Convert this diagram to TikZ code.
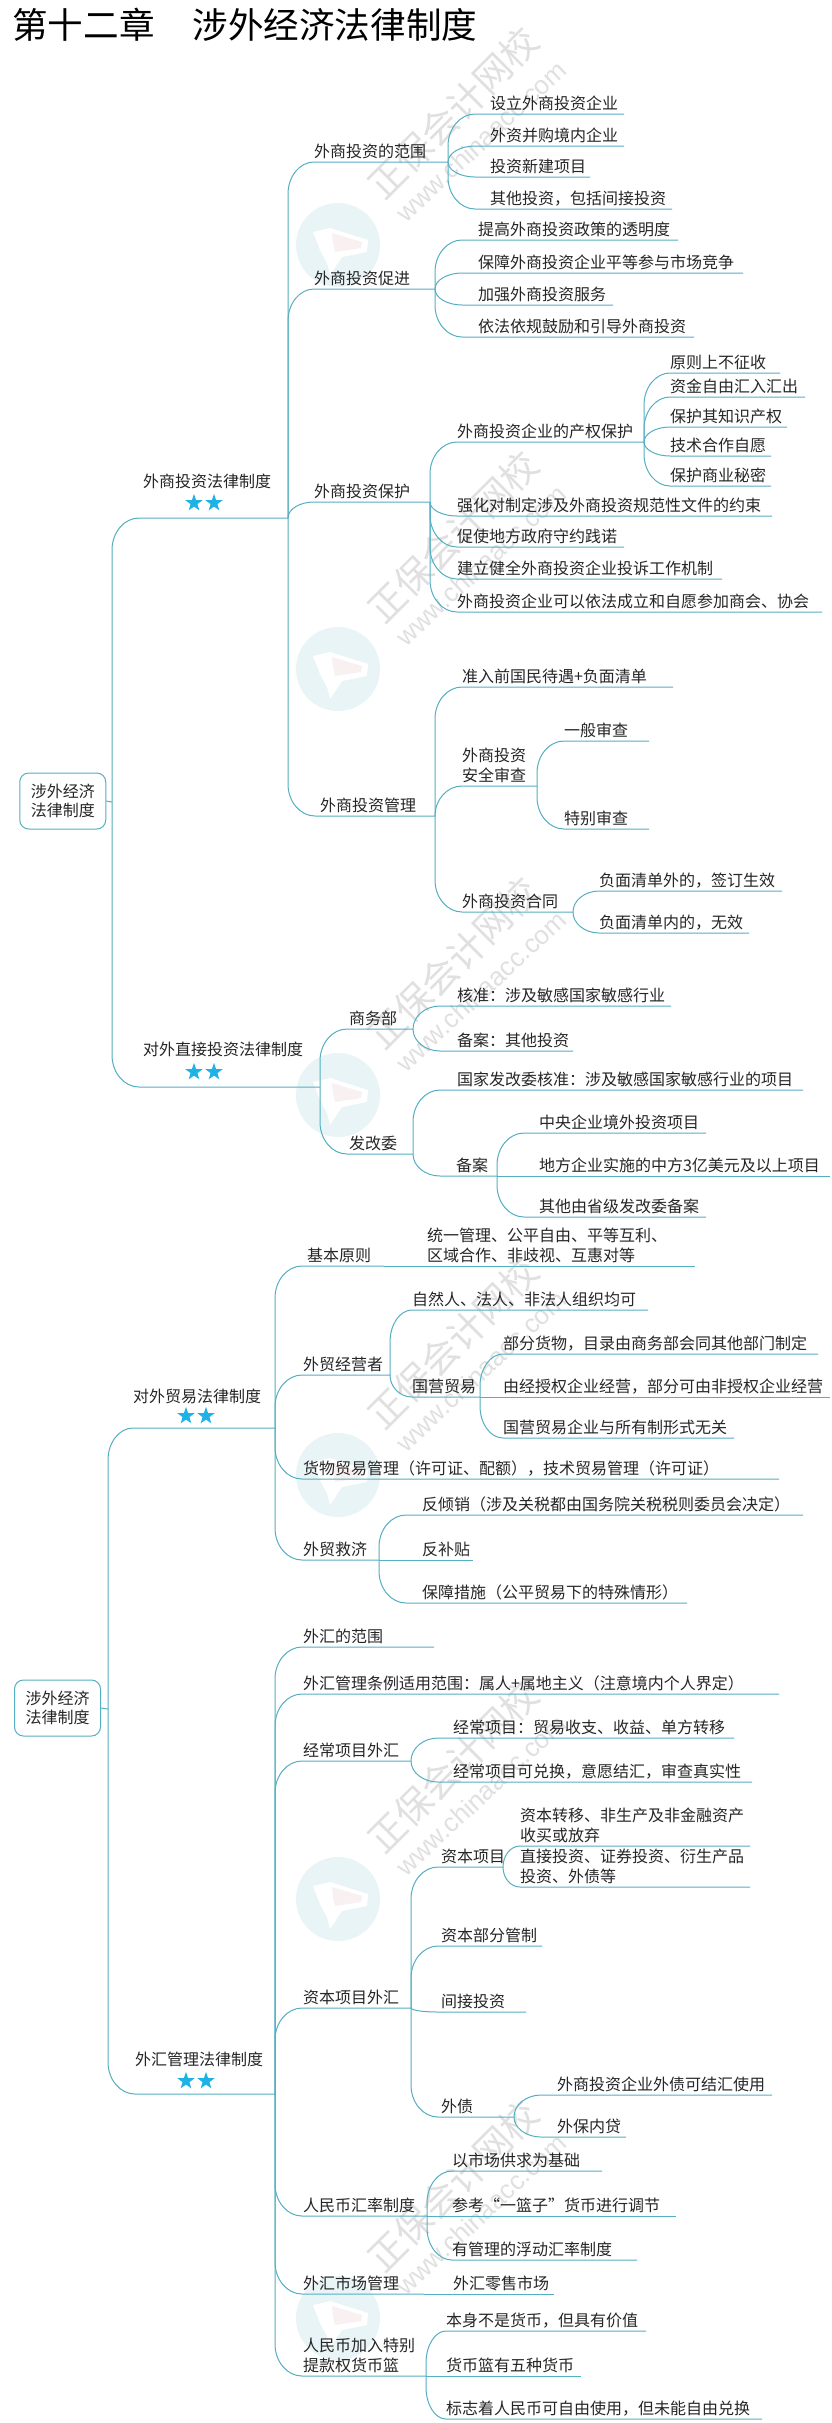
\documentclass[tikz,border=0pt]{standalone}
\usepackage{fontspec}
\setmainfont{Noto Sans CJK SC}
\newfontfamily\wmfont{Liberation Sans}
\usetikzlibrary{calc,shapes.geometric}
\definecolor{connc}{HTML}{55AFC2}
\definecolor{textc}{HTML}{262626}
\definecolor{starc}{HTML}{1FB2E6}
\definecolor{wmc}{HTML}{E0E0E0}
\definecolor{logoc}{HTML}{E9F4F6}
\definecolor{logoin}{HTML}{F8F0F1}
\tikzset{
  conn/.style={draw=connc,line width=1pt},
  topic/.style={anchor=south west,inner sep=0pt,outer sep=0pt,text=textc,font=\fontsize{16}{20}\selectfont},
  rootbox/.style={draw=connc,line width=1pt,rounded corners=9pt,fill=white,align=center,text=textc,font=\fontsize{16}{19}\selectfont,minimum width=86pt,minimum height=56pt,inner sep=0pt},
  starmark/.style={star,star points=5,star point ratio=2.5,fill=starc,minimum size=18pt,inner sep=0pt},
  joint/.style={inner sep=0pt,outer sep=0pt,minimum size=0pt},
  wmtext/.style={text=wmc,rotate=45,font=\fontsize{37}{37}\selectfont},
  wmurl/.style={text=wmc,rotate=43,font=\wmfont\fontsize{26}{26}\selectfont},
  wmdisc/.style={fill=logoc,draw=none,circle,minimum size=84pt,inner sep=0pt},
  titletext/.style={anchor=west,inner sep=0pt,text=black,font=\fontsize{35.6}{36}\selectfont}
}
% topic: name, parent, x text, y line, x end, text
\newcommand\tp[6]{%
  \pgfmathsetmacro\tpw{#5-#3}%
  \node[topic] (#1) at (#3,#4) {\makebox[\tpw pt][l]{\raisebox{-1.5pt}[\height][6pt]{\begin{tabular}[b]{@{}l@{}}#6\end{tabular}}}};
  \draw[conn] let \p1=(#2.south east), \p2=(#1.south west),
    \n1={(\y2>\y1?1:-1)*min(abs(\y2-\y1),32)}, \n2={min(\x2-\x1,27)} in
    (\x1,\y1) -- (\x1,\y2-\n1) .. controls (\x1,\y2-0.45*\n1) and (\x1+0.45*\n2,\y2) .. (\x1+\n2,\y2) -- (#1.south east);
}
\newcommand\wm[2]{%
  \node[wmdisc] (disc#1) at (338,#2+52) {};
  \fill[white] ($(disc#1)+(-25pt,13pt)$) -- ++(17pt,4pt) -- ++(38pt,-12pt) -- ++(-1pt,-12pt) -- ++(-25pt,-5pt) -- ++(-12pt,-18pt) -- ++(-3pt,12pt) -- ++(-7pt,13pt) -- cycle;
  \fill[logoin] ($(disc#1)+(-6pt,12pt)$) -- ++(30pt,-9pt) -- ++(-1pt,-6pt) -- ++(-26pt,-4pt) -- ++(-2pt,9pt) -- cycle;
  \node[wmtext] (wmt#1) at (453,#2-80) {正保会计网校};
  \node[wmurl] (wmu#1) at (481,#2-52) {www.chinaacc.com};
}
\begin{document}
\begin{tikzpicture}[x=1pt,y=-1pt]
\useasboundingbox (0,0) rectangle (831,2423);
\fill[white] (0,0) rectangle (831,2423);
\wm{a}{193}\wm{b}{617}\wm{c}{1043}\wm{d}{1423}\wm{e}{1847}\wm{f}{2266}
\node[titletext] (title) at (12,25) {第十二章\hspace{38pt}涉外经济法律制度};

% ---------- first root
\node[rootbox] (r1) at (62.75,801) {涉外经济\\法律制度};
\node[joint] (j1) at (112,802) {};
\draw[conn] (r1.east) -- (j1);
\tp{a}{j1}{143}{518}{288}{外商投资法律制度\\[6pt]~}
\node[starmark] (sa1) at (194,503) {};
\node[starmark] (sa2) at (214,503) {};
\tp{a1}{a}{314}{162}{448}{外商投资的范围}
\tp{a11}{a1}{490}{114}{624}{设立外商投资企业}
\tp{a12}{a1}{490}{146}{624}{外资并购境内企业}
\tp{a13}{a1}{490}{177}{590}{投资新建项目}
\tp{a14}{a1}{490}{209}{672}{其他投资，包括间接投资}
\tp{a2}{a}{314}{289}{435}{外商投资促进}
\tp{a21}{a2}{478}{240}{678}{提高外商投资政策的透明度}
\tp{a22}{a2}{478}{273}{743}{保障外商投资企业平等参与市场竞争}
\tp{a23}{a2}{478}{305}{613}{加强外商投资服务}
\tp{a24}{a2}{478}{337}{694}{依法依规鼓励和引导外商投资}
\tp{a3}{a}{314}{502}{430}{外商投资保护}
\tp{a31}{a3}{457}{442}{644}{外商投资企业的产权保护}
\tp{a311}{a31}{670}{373}{780}{原则上不征收}
\tp{a312}{a31}{670}{397}{805}{资金自由汇入汇出}
\tp{a313}{a31}{670}{427}{787}{保护其知识产权}
\tp{a314}{a31}{670}{456}{771}{技术合作自愿}
\tp{a315}{a31}{670}{486}{771}{保护商业秘密}
\tp{a32}{a3}{457}{516}{772}{强化对制定涉及外商投资规范性文件的约束}
\tp{a33}{a3}{457}{547}{624}{促使地方政府守约践诺}
\tp{a34}{a3}{457}{579}{722}{建立健全外商投资企业投诉工作机制}
\tp{a35}{a3}{457}{612}{822}{外商投资企业可以依法成立和自愿参加商会、协会}
\tp{a4}{a}{320}{816}{435}{外商投资管理}
\tp{a41}{a4}{462}{687}{673}{准入前国民待遇+负面清单}
\tp{a42}{a4}{462}{786}{537}{外商投资\\安全审查}
\tp{a421}{a42}{564}{741}{649}{一般审查}
\tp{a422}{a42}{564}{829}{649}{特别审查}
\tp{a43}{a4}{462}{912}{573}{外商投资合同}
\tp{a431}{a43}{599}{891}{782}{负面清单外的，签订生效}
\tp{a432}{a43}{599}{933}{749}{负面清单内的，无效}
\tp{b}{j1}{143}{1087}{320}{对外直接投资法律制度\\[7pt]~}
\node[starmark] (sb1) at (194,1072) {};
\node[starmark] (sb2) at (214,1072) {};
\tp{b1}{b}{349}{1029}{413}{商务部}
\tp{b11}{b1}{457}{1006}{671}{核准：涉及敏感国家敏感行业}
\tp{b12}{b1}{457}{1051}{573}{备案：其他投资}
\tp{b2}{b}{349}{1154}{413}{发改委}
\tp{b21}{b2}{457}{1090}{803}{国家发改委核准：涉及敏感国家敏感行业的项目}
\tp{b22}{b2}{456}{1176}{497}{备案}
\tp{b221}{b22}{539}{1133}{706}{中央企业境外投资项目}
\tp{b222}{b22}{539}{1176}{830}{地方企业实施的中方3亿美元及以上项目}
\tp{b223}{b22}{539}{1217}{706}{其他由省级发改委备案}

% ---------- second root
\node[rootbox] (r2) at (57.5,1708) {涉外经济\\法律制度};
\node[joint] (j2) at (108,1709) {};
\draw[conn] (r2.east) -- (j2);
\tp{c}{j2}{133}{1428}{275}{对外贸易法律制度\\[1pt]~}
\node[starmark] (sc1) at (186,1416) {};
\node[starmark] (sc2) at (206,1416) {};
\tp{c1}{c}{307}{1266}{384}{基本原则}
\tp{c11}{c1}{427}{1266}{695}{统一管理、公平自由、平等互利、\\区域合作、非歧视、互惠对等}
\tp{c2}{c}{303}{1375}{390}{外贸经营者}
\tp{c21}{c2}{412}{1310}{648}{自然人、法人、非法人组织均可}
\tp{c22}{c2}{412}{1397}{480}{国营贸易}
\tp{c221}{c22}{503}{1354}{818}{部分货物，目录由商务部会同其他部门制定}
\tp{c222}{c22}{503}{1397}{830}{由经授权企业经营，部分可由非授权企业经营}
\tp{c223}{c22}{503}{1438}{734}{国营贸易企业与所有制形式无关}
\tp{c3}{c}{303}{1479}{779}{货物贸易管理（许可证、配额），技术贸易管理（许可证）}
\tp{c4}{c}{303}{1560}{379}{外贸救济}
\tp{c41}{c4}{422}{1515}{803}{反倾销（涉及关税都由国务院关税税则委员会决定）}
\tp{c42}{c4}{422}{1560}{473}{反补贴}
\tp{c43}{c4}{422}{1603}{687}{保障措施（公平贸易下的特殊情形）}
\tp{d}{j2}{135}{2094}{275}{外汇管理法律制度\\[4pt]~}
\node[starmark] (sd1) at (186,2081) {};
\node[starmark] (sd2) at (206,2081) {};
\tp{d1}{d}{303}{1647}{434}{外汇的范围}
\tp{d2}{d}{303}{1694}{779}{外汇管理条例适用范围：属人+属地主义（注意境内个人界定）}
\tp{d3}{d}{303}{1761}{411}{经常项目外汇}
\tp{d31}{d3}{453}{1738}{734}{经常项目：贸易收支、收益、单方转移}
\tp{d32}{d3}{453}{1782}{752}{经常项目可兑换，意愿结汇，审查真实性}
\tp{d4}{d}{303}{2008}{411}{资本项目外汇}
\tp{d41}{d4}{441}{1867}{503}{资本项目}
\tp{d411}{d41}{520}{1846}{750}{资本转移、非生产及非金融资产\\收买或放弃}
\tp{d412}{d41}{520}{1887}{750}{直接投资、证券投资、衍生产品\\投资、外债等}
\tp{d42}{d4}{441}{1946}{542}{资本部分管制}
\tp{d43}{d4}{441}{2012}{526}{间接投资}
\tp{d44}{d4}{441}{2117}{514}{外债}
\tp{d441}{d44}{557}{2095}{772}{外商投资企业外债可结汇使用}
\tp{d442}{d44}{557}{2137}{626}{外保内贷}
\tp{d5}{d}{303}{2216}{427}{人民币汇率制度}
\tp{d51}{d5}{452}{2171}{602}{以市场供求为基础}
\tp{d52}{d5}{452}{2216}{676}{参考“一篮子”货币进行调节}
\tp{d53}{d5}{452}{2260}{637}{有管理的浮动汇率制度}
\tp{d6}{d}{303}{2294}{424}{外汇市场管理}
\tp{d61}{d6}{453}{2294}{554}{外汇零售市场}
\tp{d7}{d}{303}{2376}{426}{人民币加入特别\\提款权货币篮}
\tp{d71}{d7}{446}{2331}{646}{本身不是货币，但具有价值}
\tp{d72}{d7}{446}{2376}{581}{货币篮有五种货币}
\tp{d73}{d7}{446}{2419}{762}{标志着人民币可自由使用，但未能自由兑换}
\end{tikzpicture}
\end{document}
